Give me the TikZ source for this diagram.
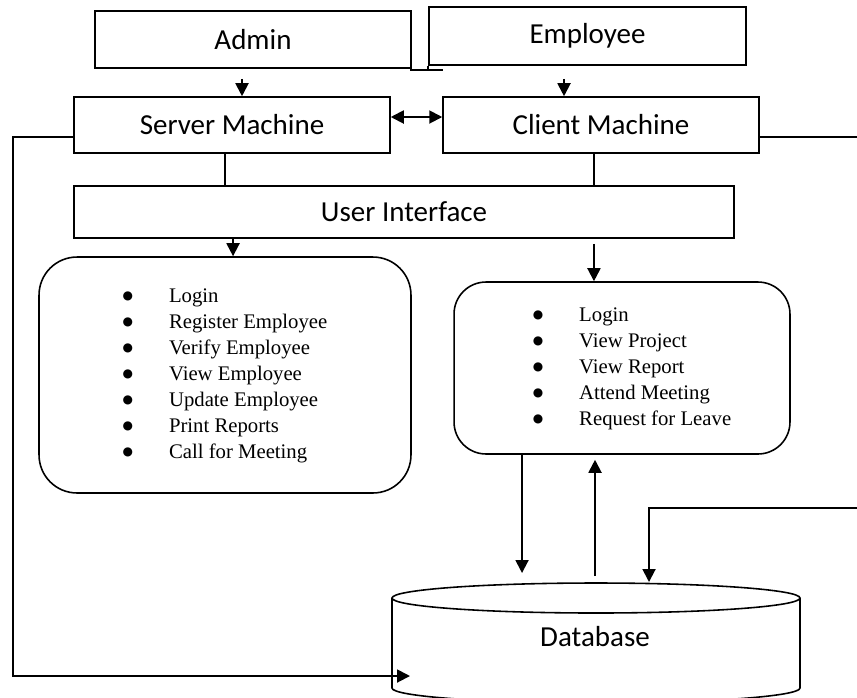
\documentclass[tikz,border=0pt]{standalone}
\usepackage{fontspec}
\setmainfont{Carlito}
\newfontfamily\listfont{Liberation Serif}
\newfontfamily\dotfont{DejaVu Sans}
\usepackage{tikz}
\usetikzlibrary{arrows.meta}
\usetikzlibrary{calc}

\newcommand{\dotitem}{{\dotfont\fontsize{6.8}{8}\selectfont\raisebox{1.3pt}{●}}}

\begin{document}
\begin{tikzpicture}[x=0.02cm, y=-0.02cm,
    box/.style={draw, line width=0.9pt, inner sep=0pt, font=\fontsize{16.5}{20}\selectfont},
    listbox/.style={draw, line width=0.9pt, inner sep=0pt, font=\listfont\fontsize{11.8}{14.8}\selectfont},
    arr/.style={-{Triangle[length=0.26cm, width=0.26cm]}, line width=1.1pt},
    link/.style={line width=0.7pt}]
      \useasboundingbox (0,0) rectangle (857,697);
      \clip (0,0) rectangle (857,697);

      \node[box, minimum width=6.32cm, minimum height=1.14cm] (admin) at (253, 39.5){Admin};
      \node[box, minimum width=6.34cm, minimum height=1.16cm] (emp) at (587.5, 36){Employee};
      \node[box, minimum width=6.32cm, minimum height=1.12cm] (server) at (232, 125){Server Machine};
      \node[box, minimum width=6.32cm, minimum height=1.12cm] (client) at (601, 125){Client Machine};
      \node[box, minimum width=13.2cm, minimum height=1.04cm] (ui) at (404, 212){User Interface};

      \node[listbox, rounded corners=0.76cm, minimum width=7.44cm, minimum height=4.72cm] (alist) at (225, 375){%
        \begin{tabular}{@{}c@{\hspace{0.72cm}}l@{}}
          \dotitem & Login\\
          \dotitem & Register Employee\\
          \dotitem & Verify Employee\\
          \dotitem & View Employee\\
          \dotitem & Update Employee\\
          \dotitem & Print Reports\\
          \dotitem & Call for Meeting
        \end{tabular}};
      \node[listbox, rounded corners=0.64cm, minimum width=6.72cm, minimum height=3.44cm] (clist) at (622, 368){%
        \begin{tabular}{@{\hspace{0.4cm}}c@{\hspace{0.72cm}}l@{}}
          \dotitem & Login\\
          \dotitem & View Project\\
          \dotitem & View Report\\
          \dotitem & Attend Meeting\\
          \dotitem & Request for Leave
        \end{tabular}};

      % database cylinder
      \draw[line width=0.9pt] (596, 598) ellipse [x radius=204, y radius=15];
      \draw[line width=0.9pt] (392, 598) -- (392, 688) arc[start angle=180, end angle=0, x radius=204, y radius=15] -- (800, 598);
      \node[font=\fontsize{16.5}{20}\selectfont] (db) at (595, 637){Database};
      \coordinate (dbtop) at (596, 583);
      \coordinate (dbleft) at (410, 676);
      \coordinate (lbend) at (13, 676);
      \coordinate (rbend) at (880, 508);
      \coordinate (dbright) at (649, 582);

      \draw[line width=0.9pt] (410, 70) -- (443, 70) (emp.south west) -- ++(0, 5);

      \draw[arr] ([xshift=-0.22cm, yshift=-0.2cm]admin.south) coordinate (a1) -- (a1 |- server.north);
      \draw[arr] ([xshift=-0.47cm, yshift=-0.26cm]emp.south) coordinate (e1) -- (e1 |- client.north);
      \draw[{Triangle[length=0.26cm, width=0.26cm]}-{Triangle[length=0.26cm, width=0.26cm]}, line width=1.1pt]
        ([yshift=0.16cm]server.east) -- ([yshift=0.16cm]client.west);

      \draw[link] ([xshift=-0.14cm]server.south) coordinate (s1) -- (s1 |- ui.north);
      \draw[link] ([xshift=-0.14cm]client.south) coordinate (s2) -- (s2 |- ui.north);

      \draw[arr] ([xshift=-3.42cm]ui.south) coordinate (u1) -- (u1 |- alist.north);
      \draw[arr] ([xshift=3.8cm, yshift=-0.1cm]ui.south) coordinate (u2) -- (u2 |- clist.north);

      \draw[arr] ([xshift=-2cm]clist.south) coordinate (c1) -- ($(c1 |- dbtop)+(0, -10)$);
      \coordinate (c2) at ([xshift=-0.54cm, yshift=-0.1cm]clist.south);
      \draw[arr] ($(c2 |- dbtop)+(0, -7)$) -- (c2);

      \draw[arr] ([yshift=-0.24cm]server.west) -| (lbend) -- (dbleft);
      \draw[arr] ([yshift=-0.24cm]client.east) -| (rbend) -| (dbright);
    \end{tikzpicture}
\end{document}
